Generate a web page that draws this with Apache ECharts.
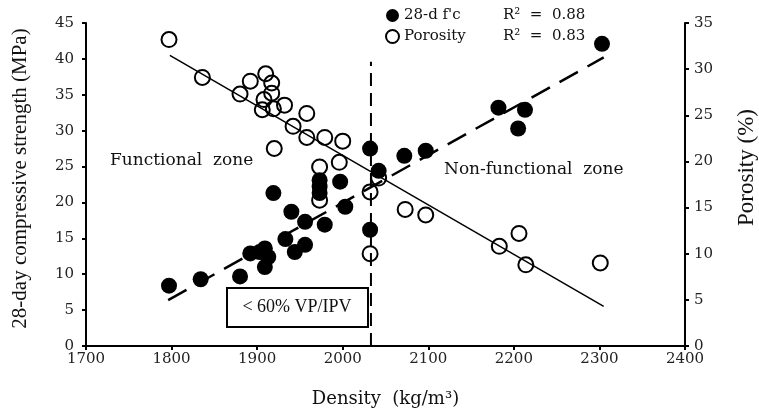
<!DOCTYPE html>
<html>
<head>
<meta charset="utf-8">
<script src="https://cdn.jsdelivr.net/npm/echarts@6/dist/echarts.min.js"></script>
<style>
html,body{margin:0;padding:0;background:#fff;}
#main{width:759px;height:410px;}
</style>
</head>
<body>
<div id="main"></div>
<script>
// 28-d compressive strength (density, MPa)
var fcData = [
  [1797, 8.4], [1834, 9.3], [1880, 9.7], [1892, 12.9], [1903, 13.1],
  [1909, 13.6], [1913, 12.4], [1909, 11.0], [1919, 21.3], [1933, 14.9],
  [1940, 18.7], [1944, 13.1], [1956, 17.3], [1956, 14.1], [1973, 23.1],
  [1973, 22.2], [1973, 21.3], [1979, 16.9], [1997, 22.9], [2003, 19.4],
  [2032, 27.5], [2032, 16.2], [2042, 24.4], [2072, 26.5], [2097, 27.2],
  [2182, 33.2], [2205, 30.3], [2213, 32.9], [2303, 42.1]
];
// porosity (density, %)
var porData = [
  [1797, 33.2], [1836, 29.1], [1880, 27.3], [1892, 28.7], [1910, 29.5],
  [1917, 28.5], [1917, 27.4], [1908, 26.7], [1932, 26.1], [1906, 25.6],
  [1919, 25.7], [1942, 23.8], [1920, 21.4], [1958, 25.2], [1958, 22.6],
  [1979, 22.6], [2000, 22.2], [1973, 19.4], [1996, 19.9], [1973, 15.8],
  [2032, 16.7], [2042, 18.2], [2032, 10.0], [2073, 14.8], [2097, 14.2],
  [2183, 10.8], [2206, 12.2], [2214, 8.8], [2301, 9.0]
];
// trend lines
var fcTrend = [[1796, 6.4], [2305, 40.2]];
var porTrend = [[1798, 31.5], [2305, 4.3]];
// threshold density (60% VP/IPV)
var limitLine = [[2033, 0], [2033, 39.6]];

var serif = 'Liberation Serif';
var wide = 'DejaVu Serif';
var myChart = echarts.init(document.getElementById('main'));

var option = {
  backgroundColor: '#fff',
  animation: false,
  grid: {left: 86, right: 74, top: 23, bottom: 64, containLabel: false, outerBoundsMode: 'none'},
  legend: {
    orient: 'vertical',
    left: 380,
    top: 3,
    itemWidth: 13,
    itemHeight: 13,
    itemGap: 6,
    data: ["28-d f'c", 'Porosity'],
    formatter: function (name) {
      var r = name === 'Porosity' ? 'R²  =  0.83' : 'R²  =  0.88';
      return '{a|' + name + '}{b|' + r + '}';
    },
    textStyle: {
      fontFamily: wide,
      fontSize: 15,
      color: '#111',
      rich: {
        a: {fontFamily: wide, fontSize: 15, color: '#111', width: 99},
        b: {fontFamily: wide, fontSize: 15, color: '#111'}
      }
    }
  },
  xAxis: {
    type: 'value',
    min: 1700,
    max: 2400,
    interval: 100,
    name: 'Density  (kg/m³)',
    nameLocation: 'middle',
    nameGap: 44,
    nameTextStyle: {fontFamily: wide, fontSize: 18, color: '#111'},
    axisLine: {lineStyle: {color: '#000', width: 2}},
    axisTick: {length: 4, lineStyle: {color: '#000', width: 2}},
    axisLabel: {fontFamily: wide, fontSize: 15, color: '#222', margin: 6,
      formatter: function (v) { return String(v); }},
    splitLine: {show: false}
  },
  yAxis: [{
    type: 'value',
    min: 0,
    max: 45,
    interval: 5,
    name: '28-day compressive strength (MPa)',
    nameLocation: 'middle',
    nameRotate: 90,
    nameGap: 55,
    nameTextStyle: {fontFamily: serif, fontSize: 21, color: '#111', padding: [0, 0, 0, 12]},
    axisLine: {show: true, lineStyle: {color: '#000', width: 2}},
    axisTick: {show: true, length: 4, lineStyle: {color: '#000', width: 2}},
    axisLabel: {fontFamily: wide, fontSize: 15, color: '#222', margin: 12},
    splitLine: {show: false}
  }, {
    type: 'value',
    min: 0,
    max: 35,
    interval: 5,
    position: 'right',
    name: 'Porosity (%)',
    nameLocation: 'middle',
    nameRotate: 90,
    nameGap: 50,
    nameTextStyle: {fontFamily: serif, fontSize: 23, color: '#111', padding: [0, 0, 0, 34]},
    axisLine: {show: true, lineStyle: {color: '#000', width: 2}},
    axisTick: {show: true, length: 4, lineStyle: {color: '#000', width: 2}},
    axisLabel: {fontFamily: wide, fontSize: 15, color: '#222', margin: 9},
    splitLine: {show: false}
  }],
  series: [{
    name: 'Porosity',
    type: 'scatter',
    yAxisIndex: 1,
    symbol: 'circle',
    symbolSize: 15,
    itemStyle: {color: 'rgba(255,255,255,0)', borderColor: '#000', borderWidth: 2, opacity: 1},
    data: porData,
    z: 2
  }, {
    name: 'porTrend',
    type: 'line',
    yAxisIndex: 1,
    symbol: 'none',
    lineStyle: {color: '#000', width: 1.5},
    data: porTrend,
    z: 3
  }, {
    name: 'fcTrend',
    type: 'line',
    symbol: 'none',
    lineStyle: {color: '#000', width: 2.5, type: [21, 11]},
    data: fcTrend,
    z: 3
  }, {
    name: 'limit',
    type: 'line',
    symbol: 'none',
    lineStyle: {color: '#000', width: 2, type: [13, 7]},
    data: limitLine,
    z: 3
  }, {
    name: "28-d f'c",
    type: 'scatter',
    symbol: 'circle',
    symbolSize: 16,
    itemStyle: {color: '#000', opacity: 1},
    data: fcData,
    z: 4
  }],
  graphic: [
    {type: 'text', x: 110, y: 161, style: {text: 'Functional  zone', fontFamily: wide, fontSize: 17, fill: '#111', verticalAlign: 'middle'}},
    {type: 'text', x: 444, y: 170, style: {text: 'Non-functional  zone', fontFamily: wide, fontSize: 17, fill: '#111', verticalAlign: 'middle'}},
    {type: 'rect', shape: {x: 227, y: 288, width: 141, height: 39}, style: {fill: '#fff', stroke: '#000', lineWidth: 2}, z: 10},
    {type: 'text', x: 297, y: 307, style: {text: '< 60% VP/IPV', fontFamily: serif, fontSize: 18, fill: '#111', align: 'center', verticalAlign: 'middle'}, z: 11}
  ]
};
myChart.setOption(option);
</script>
</body>
</html>
